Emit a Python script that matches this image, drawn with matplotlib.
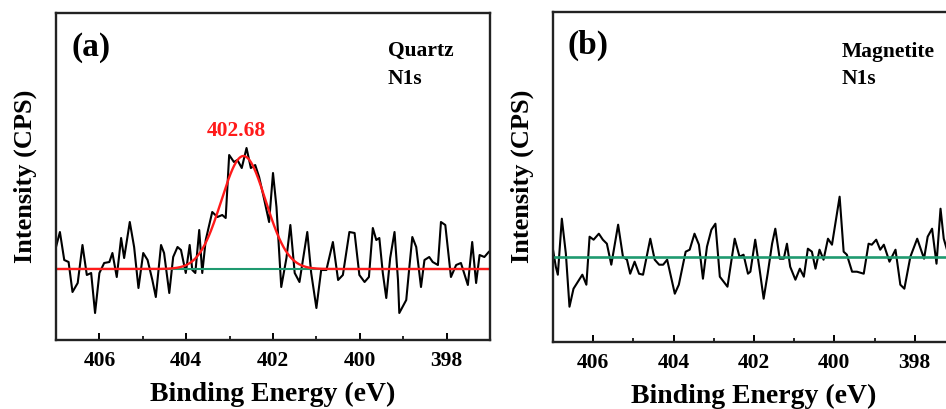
import matplotlib
matplotlib.use('Agg')
import matplotlib.pyplot as plt
import numpy as np
from matplotlib.ticker import MultipleLocator

plt.rcParams['font.family'] = ['Liberation Serif', 'DejaVu Serif']
plt.rcParams['font.weight'] = 'bold'

# Panel (a): quartz N1s, raw counts above the baseline (arbitrary units)
quartz_energy = [407.00, 406.91, 406.81, 406.71, 406.62, 406.50, 406.39, 406.29, 406.19, 406.10,
                 406.00, 405.89, 405.77, 405.70, 405.60, 405.50, 405.43, 405.30, 405.20, 405.10,
                 404.99, 404.89, 404.78, 404.70, 404.58, 404.51, 404.39, 404.30, 404.20, 404.12,
                 404.01, 403.92, 403.86, 403.79, 403.70, 403.63, 403.55, 403.40, 403.28, 403.17,
                 403.09, 403.01, 402.90, 402.82, 402.72, 402.61, 402.51, 402.41, 402.32, 402.21,
                 402.09, 402.00, 401.92, 401.81, 401.69, 401.60, 401.50, 401.39, 401.21, 401.12,
                 401.00, 400.89, 400.77, 400.62, 400.50, 400.39, 400.24, 400.12, 400.01, 399.89,
                 399.79, 399.70, 399.62, 399.55, 399.47, 399.39, 399.30, 399.20, 399.12, 399.09,
                 398.93, 398.86, 398.79, 398.70, 398.59, 398.51, 398.40, 398.32, 398.20, 398.13,
                 398.03, 397.90, 397.78, 397.67, 397.51, 397.41, 397.32, 397.24, 397.13, 397.03]
quartz_counts = [22, 37, 9, 7, -23, -14, 24, -6, -4, -44,
                 -4, 6, 7, 16, -8, 31, 11, 47, 22, -19,
                 16, 9, -11, -28, 24, 16, -24, 12, 22, 19,
                 -4, 24, -1, -4, 39, -4, 29, 57, 52, 54,
                 51, 114, 107, 109, 101, 121, 101, 104, 92, 71,
                 47, 96, 62, -18, 11, 44, -4, -13, 37, -4,
                 -39, -1, -1, 27, -11, -6, 37, 36, -6, -13,
                 -8, 41, 29, 31, -4, -29, 11, 37, -11, -44,
                 -31, 1, 32, 22, -18, 9, 12, 7, 4, 47,
                 44, -8, 4, 6, -16, 27, -14, 14, 12, 17]

# Gaussian fit of the N1s peak
peak_center = 402.68
peak_height = 113
peak_fwhm = 1.2

# Panel (b): magnetite N1s
magnetite_energy = [407.00, 406.93, 406.88, 406.78, 406.68, 406.59, 406.49, 406.38, 406.27, 406.17,
                    406.09, 405.99, 405.86, 405.76, 405.66, 405.55, 405.38, 405.26, 405.16, 405.08,
                    404.97, 404.86, 404.76, 404.58, 404.47, 404.36, 404.26, 404.16, 403.97, 403.87,
                    403.70, 403.60, 403.48, 403.37, 403.27, 403.17, 403.06, 402.96, 402.85, 402.66,
                    402.48, 402.36, 402.26, 402.15, 402.09, 401.97, 401.86, 401.76, 401.66, 401.55,
                    401.47, 401.36, 401.26, 401.18, 401.10, 400.97, 400.86, 400.76, 400.66, 400.56,
                    400.47, 400.37, 400.27, 400.16, 400.06, 399.87, 399.77, 399.69, 399.56, 399.44,
                    399.27, 399.15, 399.07, 398.96, 398.86, 398.77, 398.63, 398.48, 398.36, 398.26,
                    398.11, 397.94, 397.77, 397.68, 397.57, 397.46, 397.36, 397.28, 397.20]
magnetite_counts = [7, -10, -18, 38, 3, -50, -32, -25, -18, -28,
                    20, 17, 23, 17, 13, -8, 32, 0, -3, -17,
                    -5, -17, -18, 18, -3, -8, -8, -3, -37, -28,
                    5, 7, 23, 12, -22, 10, 27, 33, -20, -30,
                    18, 0, 2, -17, -15, 17, -13, -42, -17, 13,
                    28, -2, -2, 13, -10, -23, -12, -20, 8, 5,
                    -12, 7, -3, 18, 12, 60, 5, 2, -15, -15,
                    -17, 13, 12, 17, 7, 12, -5, 7, -28, -32,
                    0, 18, -2, 20, 28, -7, 48, 18, 7]

xticks = [406, 404, 402, 400, 398]

fig = plt.figure(figsize=(9.46, 4.09), dpi=100)
ax_a = fig.add_axes([56 / 946, 69 / 409, 434 / 946, 327 / 409])
ax_b = fig.add_axes([553 / 946, 67.3 / 409, 402 / 946, 330 / 409])

green = '#1f9a70'


def style_axis(ax, ylim):
    ax.set_xlim(407, 397)
    ax.set_ylim(*ylim)
    ax.set_xticks(xticks)
    ax.xaxis.set_minor_locator(MultipleLocator(1))
    ax.set_yticks([])
    ax.tick_params(axis='x', which='major', direction='in', length=5, width=1.4,
                   labelsize=15.5, pad=8)
    ax.tick_params(axis='x', which='minor', direction='in', length=3, width=1.2)
    for s in ax.spines.values():
        s.set_linewidth(1.7)
        s.set_color('#222222')
    ax.set_xlabel('Binding Energy (eV)', fontsize=20, fontweight='bold', labelpad=8)
    ax.set_ylabel('Intensity (CPS)', fontsize=19, fontweight='bold', labelpad=14)


# (a) quartz
fit_x = np.linspace(407, 397, 600)
sigma = peak_fwhm / 2.3548
fit_y = peak_height * np.exp(-(fit_x - peak_center) ** 2 / (2 * sigma ** 2))
ax_a.plot(quartz_energy, quartz_counts, color='black', lw=1.5)
ax_a.axhline(0, color=green, lw=1.5)
ax_a.plot(fit_x, fit_y, color='#ff1a1a', lw=1.7)
style_axis(ax_a, (-71, 256))
ax_a.text(0.035, 0.896, '(a)', transform=ax_a.transAxes, fontsize=24,
          fontweight='bold', va='center', ha='left')
ax_a.text(0.765, 0.884, 'Quartz', transform=ax_a.transAxes, fontsize=15.5,
          fontweight='bold', va='center', ha='left')
ax_a.text(0.765, 0.798, 'N1s', transform=ax_a.transAxes, fontsize=15.5,
          fontweight='bold', va='center', ha='left')
ax_a.text(402.84, 138, '402.68', color='#ff1a1a', fontsize=15.5,
          fontweight='bold', va='center', ha='center')

# (b) magnetite
ax_b.plot(magnetite_energy, magnetite_counts, color='black', lw=1.5)
ax_b.axhline(0, color=green, lw=1.9)
style_axis(ax_b, (-85, 245))
ax_b.text(0.035, 0.899, '(b)', transform=ax_b.transAxes, fontsize=24,
          fontweight='bold', va='center', ha='left')
ax_b.text(0.719, 0.878, 'Magnetite', transform=ax_b.transAxes, fontsize=15.5,
          fontweight='bold', va='center', ha='left')
ax_b.text(0.719, 0.796, 'N1s', transform=ax_b.transAxes, fontsize=15.5,
          fontweight='bold', va='center', ha='left')

fig.savefig('out.png', dpi=100)
